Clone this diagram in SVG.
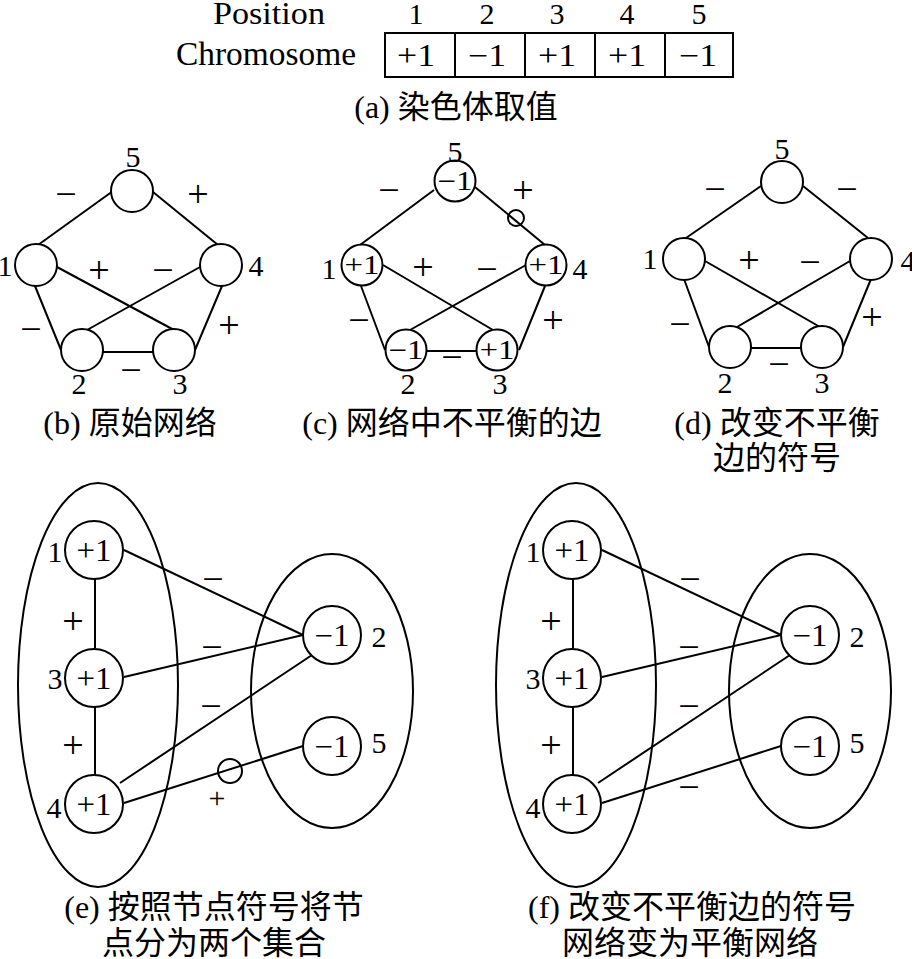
<svg xmlns="http://www.w3.org/2000/svg" width="912" height="959" viewBox="0 0 912 959">
<style>
text{font-family:"Liberation Serif","Noto Sans CJK SC",serif;fill:#000;text-anchor:middle}
.hd{font-size:31px}
.ch{font-size:34px}
.dg{font-size:30px}
.cv{font-size:31px}
.lb{font-size:30px}
.sg{font-size:38px}
.nv{font-size:27px}
.nb{font-size:31px}
.cap{font-size:32px}
.n{fill:#fff;stroke:#000;stroke-width:2}
.e{stroke:#000;stroke-width:2;fill:none}
.set{fill:none;stroke:#000;stroke-width:2}
</style>
<rect width="912" height="959" fill="#fff"/>
<g id="chromosome">
<text class="hd" x="269" y="24" textLength="112" lengthAdjust="spacingAndGlyphs">Position</text>
<text class="ch" x="266" y="65" textLength="180" lengthAdjust="spacingAndGlyphs">Chromosome</text>
<rect x="385" y="33" width="348" height="44" class="set"/>
<line x1="455" y1="33" x2="455" y2="77" class="e"/>
<line x1="525" y1="33" x2="525" y2="77" class="e"/>
<line x1="595" y1="33" x2="595" y2="77" class="e"/>
<line x1="665" y1="33" x2="665" y2="77" class="e"/>
<text class="dg" x="416" y="24">1</text><text class="dg" x="487" y="24">2</text><text class="dg" x="557" y="24">3</text><text class="dg" x="627" y="24">4</text><text class="dg" x="699" y="24">5</text>
<text class="cv" x="416" y="66" textLength="38" lengthAdjust="spacingAndGlyphs">+1</text>
<text class="cv" x="487" y="66" textLength="38" lengthAdjust="spacingAndGlyphs">−1</text>
<text class="cv" x="557" y="66" textLength="38" lengthAdjust="spacingAndGlyphs">+1</text>
<text class="cv" x="627" y="66" textLength="38" lengthAdjust="spacingAndGlyphs">+1</text>
<text class="cv" x="698" y="66" textLength="38" lengthAdjust="spacingAndGlyphs">−1</text>
<text class="cap" x="456" y="118">(a) 染色体取值</text>
</g>

<g id="connectors">
<!-- b -->
<line x1="38" y1="245" x2="113" y2="191" class="e"/>
<line x1="153" y1="192" x2="218" y2="245" class="e"/>
<line x1="57" y1="267" x2="174" y2="330" class="e"/>
<line x1="200" y1="267" x2="87" y2="330" class="e"/>
<line x1="35" y1="286" x2="61" y2="350" class="e"/>
<line x1="222" y1="286" x2="195" y2="350" class="e"/>
<line x1="103" y1="352" x2="153" y2="352" class="e"/>
<!-- c -->
<line x1="360" y1="245" x2="434" y2="190" class="e"/>
<line x1="475" y1="187" x2="545" y2="245" class="e"/>
<line x1="383" y1="265" x2="493" y2="330" class="e"/>
<line x1="526" y1="265" x2="410" y2="330" class="e"/>
<line x1="361" y1="286" x2="385" y2="350" class="e"/>
<line x1="545" y1="286" x2="519" y2="350" class="e"/>
<line x1="427" y1="351" x2="476" y2="351" class="e"/>
<!-- d -->
<line x1="686" y1="238" x2="761" y2="186" class="e"/>
<line x1="803" y1="186" x2="868" y2="238" class="e"/>
<line x1="705" y1="261" x2="820" y2="327" class="e"/>
<line x1="850" y1="261" x2="737" y2="327" class="e"/>
<line x1="684" y1="279" x2="709" y2="347" class="e"/>
<line x1="871" y1="279" x2="843" y2="347" class="e"/>
<line x1="751" y1="348" x2="802" y2="348" class="e"/>
<!-- e -->
<line x1="95" y1="579" x2="95" y2="648" class="e"/>
<line x1="95" y1="707" x2="95" y2="775" class="e"/>
<line x1="124" y1="550" x2="303" y2="635" class="e"/>
<line x1="124" y1="677" x2="303" y2="635" class="e"/>
<line x1="120" y1="783" x2="312" y2="655" class="e"/>
<line x1="124" y1="803" x2="303" y2="746" class="e"/>
<!-- f -->
<line x1="573" y1="579" x2="573" y2="648" class="e"/>
<line x1="573" y1="707" x2="573" y2="775" class="e"/>
<line x1="602" y1="550" x2="781" y2="635" class="e"/>
<line x1="602" y1="677" x2="781" y2="635" class="e"/>
<line x1="598" y1="783" x2="790" y2="655" class="e"/>
<line x1="602" y1="803" x2="781" y2="746" class="e"/>
</g>

<g id="graph-b">
<g id="b5"><circle cx="132" cy="191" r="21" class="n"/><text class="lb" x="133" y="167">5</text></g>
<g id="b1"><circle cx="36" cy="265" r="21" class="n"/><text class="lb" x="5" y="276">1</text></g>
<g id="b4"><circle cx="221" cy="265" r="21" class="n"/><text class="lb" x="256" y="276">4</text></g>
<g id="b2"><circle cx="82" cy="350" r="21" class="n"/><text class="lb" x="79" y="394">2</text></g>
<g id="b3"><circle cx="174" cy="350" r="21" class="n"/><text class="lb" x="180" y="394">3</text></g>
<g id="b-signs">
<text class="sg" x="66" y="207">−</text><text class="sg" x="198" y="207">+</text>
<text class="sg" x="99" y="283">+</text><text class="sg" x="163" y="283">−</text>
<text class="sg" x="31" y="342">−</text><text class="sg" x="229" y="338">+</text>
<text class="sg" x="131" y="383">−</text>
</g>
<text class="cap" x="130" y="434">(b) 原始网络</text>
</g>

<g id="graph-c">
<circle cx="516" cy="218" r="8" class="set"/>
<g id="c5"><circle cx="455" cy="181" r="20.5" class="n"/><text class="nv" x="455" y="190" textLength="35" lengthAdjust="spacingAndGlyphs">−1</text><text class="lb" x="455" y="162">5</text></g>
<g id="c1"><circle cx="362" cy="265" r="20.5" class="n"/><text class="nv" x="362" y="274" textLength="35" lengthAdjust="spacingAndGlyphs">+1</text><text class="lb" x="329" y="279">1</text></g>
<g id="c4"><circle cx="546" cy="265" r="20.5" class="n"/><text class="nv" x="546" y="274" textLength="35" lengthAdjust="spacingAndGlyphs">+1</text><text class="lb" x="580" y="279">4</text></g>
<g id="c2"><circle cx="406" cy="350" r="20.5" class="n"/><text class="nv" x="406" y="359" textLength="35" lengthAdjust="spacingAndGlyphs">−1</text><text class="lb" x="408" y="394">2</text></g>
<g id="c3"><circle cx="497" cy="350" r="20.5" class="n"/><text class="nv" x="497" y="359" textLength="35" lengthAdjust="spacingAndGlyphs">+1</text><text class="lb" x="500" y="394">3</text></g>
<g id="c-signs">
<text class="sg" x="389" y="203">−</text><text class="sg" x="523" y="203">+</text>
<text class="sg" x="423" y="280">+</text><text class="sg" x="487" y="282">−</text>
<text class="sg" x="359" y="333">−</text><text class="sg" x="553" y="333">+</text>
<text class="sg" x="452" y="370">−</text>
</g>
<text class="cap" x="452" y="434">(c) 网络中不平衡的边</text>
</g>

<g id="graph-d">
<g id="d5"><circle cx="782" cy="182" r="21" class="n"/><text class="lb" x="782" y="159">5</text></g>
<g id="d1"><circle cx="684" cy="259" r="21" class="n"/><text class="lb" x="650" y="269">1</text></g>
<g id="d4"><circle cx="871" cy="259" r="21" class="n"/><text class="lb" x="908" y="271">4</text></g>
<g id="d2"><circle cx="730" cy="347" r="21" class="n"/><text class="lb" x="725" y="393">2</text></g>
<g id="d3"><circle cx="822" cy="347" r="21" class="n"/><text class="lb" x="822" y="393">3</text></g>
<g id="d-signs">
<text class="sg" x="715" y="202">−</text><text class="sg" x="847" y="202">−</text>
<text class="sg" x="749" y="273">+</text><text class="sg" x="810" y="275">−</text>
<text class="sg" x="680" y="337">−</text><text class="sg" x="872" y="330">+</text>
<text class="sg" x="779" y="377">−</text>
</g>
<text class="cap" x="777" y="434">(d) 改变不平衡</text>
<text class="cap" x="777" y="469">边的符号</text>
</g>

<g id="graph-e">
<ellipse cx="98" cy="685" rx="80" ry="202" class="set"/>
<ellipse cx="332" cy="691" rx="81" ry="137" class="set"/>
<circle cx="230" cy="771" r="12" class="set"/>
<g id="e1"><circle cx="94" cy="550" r="29" class="n"/><text class="nb" x="94" y="561" textLength="35" lengthAdjust="spacingAndGlyphs">+1</text><text class="lb" x="55" y="562">1</text></g>
<g id="e3"><circle cx="94" cy="678" r="29" class="n"/><text class="nb" x="94" y="689" textLength="35" lengthAdjust="spacingAndGlyphs">+1</text><text class="lb" x="55" y="689">3</text></g>
<g id="e4"><circle cx="94" cy="804" r="29" class="n"/><text class="nb" x="94" y="815" textLength="35" lengthAdjust="spacingAndGlyphs">+1</text><text class="lb" x="54" y="818">4</text></g>
<g id="e2"><circle cx="332" cy="635" r="29" class="n"/><text class="nb" x="332" y="646" textLength="35" lengthAdjust="spacingAndGlyphs">−1</text><text class="lb" x="379" y="647">2</text></g>
<g id="e5"><circle cx="332" cy="746" r="29" class="n"/><text class="nb" x="332" y="757" textLength="35" lengthAdjust="spacingAndGlyphs">−1</text><text class="lb" x="379" y="753">5</text></g>
<g id="e-signs">
<text class="sg" x="73" y="634">+</text><text class="sg" x="73" y="758">+</text>
<text class="sg" x="213" y="592">−</text><text class="sg" x="212" y="660">−</text>
<text class="sg" x="211" y="719">−</text><text class="sg" x="217" y="808" style="font-size:30px">+</text>
</g>
<text class="cap" x="214" y="918">(e) 按照节点符号将节</text>
<text class="cap" x="214" y="954">点分为两个集合</text>
</g>

<g id="graph-f">
<ellipse cx="576" cy="685" rx="80" ry="202" class="set"/>
<ellipse cx="810" cy="691" rx="81" ry="137" class="set"/>
<g id="f1"><circle cx="572" cy="550" r="29" class="n"/><text class="nb" x="572" y="561" textLength="35" lengthAdjust="spacingAndGlyphs">+1</text><text class="lb" x="533" y="562">1</text></g>
<g id="f3"><circle cx="572" cy="678" r="29" class="n"/><text class="nb" x="572" y="689" textLength="35" lengthAdjust="spacingAndGlyphs">+1</text><text class="lb" x="533" y="689">3</text></g>
<g id="f4"><circle cx="572" cy="804" r="29" class="n"/><text class="nb" x="572" y="815" textLength="35" lengthAdjust="spacingAndGlyphs">+1</text><text class="lb" x="533" y="818">4</text></g>
<g id="f2"><circle cx="810" cy="635" r="29" class="n"/><text class="nb" x="810" y="646" textLength="35" lengthAdjust="spacingAndGlyphs">−1</text><text class="lb" x="857" y="647">2</text></g>
<g id="f5"><circle cx="810" cy="746" r="29" class="n"/><text class="nb" x="810" y="757" textLength="35" lengthAdjust="spacingAndGlyphs">−1</text><text class="lb" x="857" y="753">5</text></g>
<g id="f-signs">
<text class="sg" x="551" y="634">+</text><text class="sg" x="551" y="758">+</text>
<text class="sg" x="690" y="592">−</text><text class="sg" x="689" y="660">−</text>
<text class="sg" x="689" y="719">−</text><text class="sg" x="689" y="800">−</text>
</g>
<text class="cap" x="692" y="918">(f) 改变不平衡边的符号</text>
<text class="cap" x="690" y="954">网络变为平衡网络</text>
</g>
</svg>
